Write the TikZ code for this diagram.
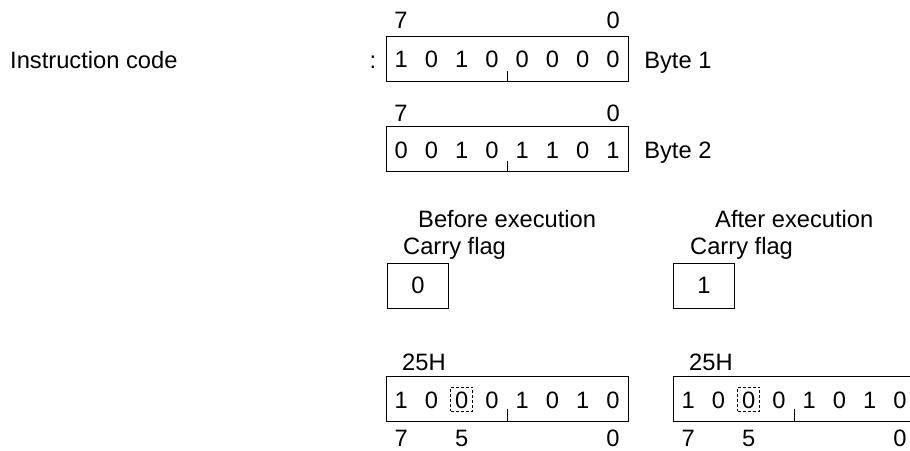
\documentclass[tikz,border=0pt]{standalone}
\usepackage{fontspec}
\setmainfont{Liberation Sans}
\usetikzlibrary{calc, positioning}

\begin{document}
\begin{tikzpicture}[x=1pt,y=-1pt,
  every node/.style={font=\fontsize{23.7}{28}\selectfont,inner sep=0pt},
  reg/.style={draw,line width=1.1pt,minimum width=242pt,minimum height=45pt,anchor=north west},
  flagbox/.style={draw,line width=1.1pt,minimum width=61pt,minimum height=45pt,anchor=north west},
  txt/.style={anchor=base west},
  num/.style={anchor=base},
  tick/.style={line width=1.1pt},
  sel/.style={draw,line width=0.7pt,dash pattern=on 3pt off 2pt,
              minimum width=22pt,minimum height=24pt}
]
\clip (0,0) rectangle (910,450);

% instruction code
\node[txt] (instr) at (10,68) {Instruction code};
\node[num] (colon) at (373,68) {:};

\node[reg] (byteA) at (386,35.5) {};
\foreach \b [count=\i from 0] in {1,0,1,0,0,0,0,0}
  \node (a\i) at ($(byteA.west)+(15.1+30.25*\i,1)$) {\b};
\node[num] (hiA) at ($(byteA.north west)+(15,-7.5)$) {7};
\node[num] (loA) at ($(byteA.north east)+(-16,-7.5)$) {0};
\node[txt] (lblA) at ($(byteA.east)+(15,10)$) {Byte 1};
\draw[tick] (byteA.south) -- ++(0,-11);

\node[reg] (byteB) at (386,126) {};
\foreach \b [count=\i from 0] in {0,0,1,0,1,1,0,1}
  \node (b\i) at ($(byteB.west)+(15.1+30.25*\i,1)$) {\b};
\node[num] (hiB) at ($(byteB.north west)+(15,-5)$) {7};
\node[num] (loB) at ($(byteB.north east)+(-16,-5)$) {0};
\node[txt] (lblB) at ($(byteB.east)+(15,9.5)$) {Byte 2};
\draw[tick] (byteB.south) -- ++(0,-11);

% carry flag
\node[txt] (before) at (418,227) {Before execution};
\node[txt] (cfA) at (403,254) {Carry flag};
\node[flagbox] (flagA) at (387,262.5) {0};

\node[txt] (after) at (715,227) {After execution};
\node[txt] (cfB) at (690,254) {Carry flag};
\node[flagbox] (flagB) at (673,262.5) {1};

% memory 25H
\node[reg] (memA) at (386,376) {};
\node[reg] (memB) at (673,376) {};
\foreach \m in {memA,memB} {
  \foreach \b [count=\i from 0] in {1,0,0,0,1,0,1,0}
    \node (\m-\i) at ($(\m.west)+(15.1+30.25*\i,1.5)$) {\b};
  \node[sel] (\m-sel) at ($(\m.west)+(75.6,0)$) {};
  \draw[tick] (\m.south) -- ++(0,-13);
  \node[txt] (\m-addr) at ($(\m.north west)+(16,-6)$) {25H};
  \node[num] (\m-hi) at ($(\m.south west)+(15.1,24)$) {7};
  \node[num] (\m-mid) at ($(\m.south west)+(75.6,24)$) {5};
  \node[num] (\m-lo) at ($(\m.south west)+(226.9,24)$) {0};
}
\end{tikzpicture}
\end{document}
